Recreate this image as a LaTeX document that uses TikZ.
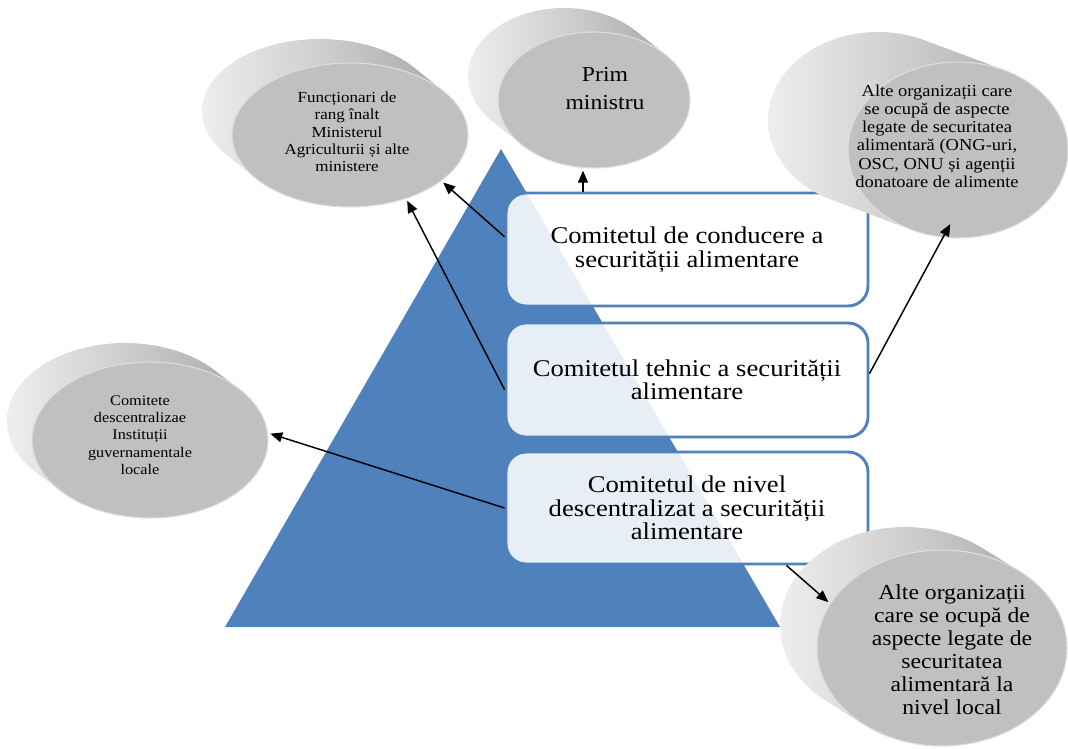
\documentclass[tikz,border=0pt]{standalone}
\usepackage{fontspec}
\setmainfont{Liberation Serif}[FakeStretch=1.11]
\usetikzlibrary{arrows.meta,calc,shapes.geometric}
\definecolor{triblue}{HTML}{4F81BD}
\definecolor{face}{HTML}{C0C0C0}
\definecolor{sideL}{HTML}{EEEEEE}
\definecolor{sideM}{HTML}{CACACA}
\definecolor{sideR}{HTML}{A2A2A2}
\definecolor{rimc}{HTML}{DEDEDE}
% side of a tilted disc: swept outline of the face ellipse moved by (ox,oy)
\newcommand{\discside}[6]{%
  \pgfmathsetmacro{\tA}{180+atan(-(#4)*(#5)/((#3)*(#6)))}%
  \pgfmathsetmacro{\tB}{\tA+180}%
  \pgfmathsetmacro{\tC}{\tA+360}%
  \shade[left color=sideL, right color=sideR, middle color=sideM]
    plot[domain=\tA:\tB, samples=60, variable=\t] ({#1+(#5)+(#3)*cos(\t)},{#2+(#6)+(#4)*sin(\t)})
    -- plot[domain=\tB:\tC, samples=60, variable=\t] ({#1+(#3)*cos(\t)},{#2+(#4)*sin(\t)})
    -- cycle;
}
\begin{document}
\begin{tikzpicture}[x=0.75pt,y=-0.75pt,
  box/.style={draw=triblue, line width=2.2pt, fill=white, fill opacity=0.87, text opacity=1,
    rounded corners=15pt, minimum width=271.5pt, inner sep=0pt, align=center,
    font=\fontsize{18}{17.6}\selectfont},
  discface/.style={ellipse, fill=face, draw=rimc, line width=0.8pt, inner sep=0pt, outer sep=2pt},
  dtext/.style={align=center, inner sep=0pt},
  arr/.style={-{Triangle[length=9pt,width=7.5pt]}, line width=1.1pt, black}
]
\fill[white] (0,0) rectangle (1068,749);
\useasboundingbox (0,0) rectangle (1068,749);

% pyramid
\fill[triblue] (501,149) -- (780,627) -- (225,627) -- cycle;

% committee boxes
\node[box, minimum height=84.75pt] (b1) at (687,249.5) {Comitetul de conducere a\\securității alimentare};
\node[box, minimum height=85.5pt] (b2) at (687,380) {Comitetul tehnic a securității\\alimentare};
\node[box, minimum height=84pt] (b3) at (687,508) {Comitetul de nivel\\descentralizat a securității\\alimentare};

% disc 1
\discside{350}{135}{118}{72}{-30}{-24}
\node[discface, minimum width=177pt, minimum height=108pt] (d1) at (350,135) {};
\node[dtext, font=\fontsize{11.5}{13}\selectfont] (t1) at (347,132) {Funcționari de\\rang înalt\\Ministerul\\Agriculturii și alte\\ministere};

% disc 2
\discside{594}{100}{96}{68}{-30}{-24}
\node[discface, minimum width=144pt, minimum height=102pt] (d2) at (594,100) {};
\node[dtext, font=\fontsize{16}{21}\selectfont] (t2) at (605,89) {Prim\\ministru};

% disc 3
\discside{958}{150}{110}{88}{-80}{-30}
\node[discface, minimum width=165pt, minimum height=132pt] (d3) at (958,150) {};
\node[dtext, font=\fontsize{12.5}{13.65}\selectfont] (t3) at (937,136) {Alte organizații care\\se ocupă de aspecte\\legate de securitatea\\alimentară (ONG-uri,\\OSC, ONU și agenții\\donatoare de alimente};

% disc 4
\discside{150}{440}{118}{78}{-25}{-19}
\node[discface, minimum width=177pt, minimum height=117pt] (d4) at (150,440) {};
\node[dtext, font=\fontsize{11}{13}\selectfont] (t4) at (140,435) {Comitete\\descentralizae\\Instituții\\guvernamentale\\locale};

% disc 5
\discside{942}{648}{125}{98}{-37}{-23}
\node[discface, minimum width=187.5pt, minimum height=147pt] (d5) at (942,648) {};
\node[dtext, font=\fontsize{16}{17.25}\selectfont] (t5) at (952,650) {Alte organizații\\care se ocupă de\\aspecte legate de\\securitatea\\alimentară la\\nivel local};

% connectors
\coordinate (p3) at (583,0);
\draw[arr] (b1.176.4) -- (d1.-27.3);
\draw[arr] (b2.183.8) -- (d1.-49.4);
\draw[arr] (b1.north -| p3) -- (d2.south -| p3);
\draw[arr] (b2.2.5) -- ($(d3.center)!0.82!(d3.-96.5)$);
\draw[arr] (b3.west) -- (d4.3.8);
\draw[arr] (b3.-30.7) -- (d5.158.5);
\end{tikzpicture}
\end{document}
